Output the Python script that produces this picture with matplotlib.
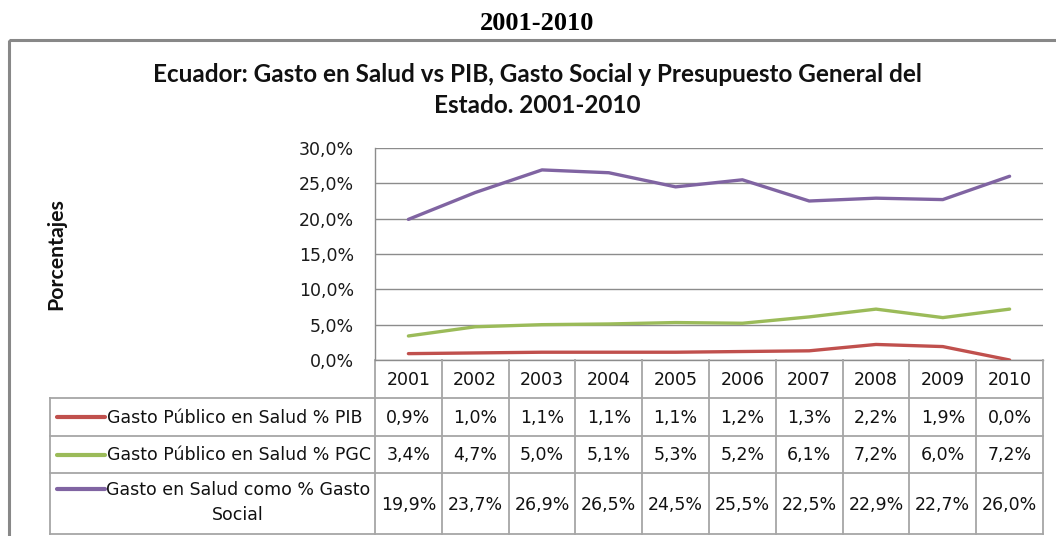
import matplotlib
matplotlib.use("Agg")
import matplotlib.pyplot as plt
from matplotlib.patches import Rectangle

# ---- data ----
years = ["2001", "2002", "2003", "2004", "2005", "2006", "2007", "2008", "2009", "2010"]
pib = [0.9, 1.0, 1.1, 1.1, 1.1, 1.2, 1.3, 2.2, 1.9, 0.0]
pgc = [3.4, 4.7, 5.0, 5.1, 5.3, 5.2, 6.1, 7.2, 6.0, 7.2]
social = [19.9, 23.7, 26.9, 26.5, 24.5, 25.5, 22.5, 22.9, 22.7, 26.0]
series_names = ["Gasto Público en Salud % PIB",
                "Gasto Público en Salud % PGC",
                "Gasto en Salud como % Gasto\nSocial"]
series_vals = [pib, pgc, social]
colors = ["#C0504D", "#9BBB59", "#8064A2"]
yticks = [0, 5, 10, 15, 20, 25, 30]
top_title = "2001-2010"
chart_title = "Ecuador: Gasto en Salud vs PIB, Gasto Social y Presupuesto General del\nEstado. 2001-2010"
ylabel = "Porcentajes"

def fmt(v):
    return f"{v:.1f}".replace(".", ",") + "%"

W, H = 1056, 536
fig = plt.figure(figsize=(W / 100, H / 100), dpi=100)
fig.patch.set_facecolor("white")

# overlay in pixel coordinates
ov = fig.add_axes([0, 0, 1, 1], zorder=0)
ov.set_xlim(0, W)
ov.set_ylim(H, 0)
ov.axis("off")

# plot area
pl, pr, pt, pb = 375, 1043, 148, 360
ax = fig.add_axes([pl / W, (H - pb) / H, (pr - pl) / W, (pb - pt) / H], zorder=2)
ax.patch.set_alpha(0)
n = len(years)
x = list(range(n))
for vals, c in zip(series_vals, colors):
    ax.plot(x, vals, color=c, lw=2.4, solid_capstyle="round", zorder=3)
ax.set_xlim(-0.5, n - 0.5)
ax.set_ylim(0, 30)
ax.set_yticks(yticks)
ax.set_yticklabels([fmt(t) for t in yticks], fontsize=12.5, color="#1a1a1a",
                   family="DejaVu Sans")
ax.tick_params(axis="y", length=0, pad=15)
ax.set_xticks([])
ax.grid(axis="y", color="#8c8c8c", lw=1.0)
ax.set_axisbelow(True)
for s in ["top", "right", "bottom"]:
    ax.spines[s].set_visible(False)
ax.spines["left"].set_color("#8c8c8c")
ax.spines["left"].set_linewidth(1.0)

# outer border (cut at right and bottom)
ov.add_patch(Rectangle((9, 40), 1200, 600, fill=False, edgecolor="#888888", lw=2.2))

# titles
ov.text(537, 23, top_title, ha="center", va="center", fontsize=19, fontweight="bold",
        family="Liberation Serif")
ov.text(537, 90, chart_title, ha="center", va="center", fontsize=17.5, fontweight="bold",
        family="Lato", linespacing=1.42, color="#111111")
ov.text(56, 254, ylabel, ha="center", va="center", rotation=90, fontsize=15.3,
        fontweight="bold", family="Lato", color="#111111")

# ---- table ----
fig.canvas.draw()
def px(i):
    return ax.transData.transform((i, 0))[0]

col_edges = [px(i - 0.5) for i in range(n + 1)]
row_edges = [360, 398, 436, 473, 534]
leg_left = 50
grid_c = "#a6a6a6"
lw = 1.3
# horizontal lines
ov.plot([col_edges[0], col_edges[-1]], [row_edges[0]] * 2, color="#8c8c8c", lw=1.0, zorder=1)
for y in row_edges[1:]:
    ov.plot([leg_left, col_edges[-1]], [y, y], color=grid_c, lw=lw, zorder=1)
# vertical lines
for xe in col_edges:
    ov.plot([xe, xe], [row_edges[0], row_edges[-1]], color=grid_c, lw=lw, zorder=1)
ov.plot([leg_left, leg_left], [row_edges[1], row_edges[-1]], color=grid_c, lw=lw, zorder=1)

# header
for i, yr in enumerate(years):
    ov.text(px(i), (row_edges[0] + row_edges[1]) / 2 + 1, yr, ha="center", va="center",
            fontsize=12.5, family="DejaVu Sans", color="#111111")
# rows
for r, (name, vals, c) in enumerate(zip(series_names, series_vals, colors)):
    y0, y1 = row_edges[r + 1], row_edges[r + 2]
    yc = (y0 + y1) / 2 + 1
    lines = name.split("\n")
    if len(lines) == 1:
        ov.plot([57, 105], [yc - 1, yc - 1], color=c, lw=3, solid_capstyle="round", zorder=2)
        ov.text(107, yc, name, ha="left", va="center", fontsize=12.5,
                family="DejaVu Sans", color="#111111")
    else:
        ly = y0 + 16
        ov.plot([57, 105], [ly, ly], color=c, lw=3, solid_capstyle="round", zorder=2)
        ov.text(238, ly + 1, lines[0], ha="center", va="center", fontsize=12.5,
                family="DejaVu Sans", color="#111111")
        ov.text(238, ly + 26, lines[1], ha="center", va="center", fontsize=12.5,
                family="DejaVu Sans", color="#111111")
    for i, v in enumerate(vals):
        ov.text(px(i), yc, fmt(v), ha="center", va="center", fontsize=12.5,
                family="DejaVu Sans", color="#111111")

fig.savefig("out.png", dpi=100, facecolor="white")
